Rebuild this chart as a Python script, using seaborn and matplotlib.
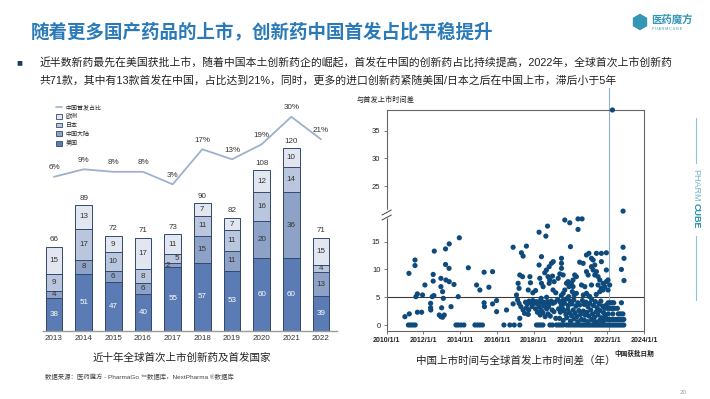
#!/usr/bin/env python
# -*- coding: UTF-8 -*-

# Import Modules
import numpy as np
import pandas as pd
import seaborn as sns
import matplotlib.pyplot as plt
from matplotlib.lines import Line2D
from matplotlib.patches import Patch, RegularPolygon
import matplotlib.transforms as mtransforms


# ---- data: left chart (first global launches by country) ----
years = ['2013', '2014', '2015', '2016', '2017', '2018', '2019', '2020', '2021', '2022']
usa = [38, 51, 47, 40, 55, 57, 53, 60, 60, 39]
china = [4, 8, 6, 6, 2, 15, 11, 20, 36, 13]
japan = [9, 17, 10, 8, 5, 11, 11, 16, 14, 4]
europe = [15, 13, 9, 17, 11, 7, 7, 12, 10, 15]
china_share = [6, 9, 8, 8, 3, 17, 13, 19, 30, 21]

# ---- data: right chart (China approval year, lag to first global launch in years) ----
lag_zero_years = [2011.18, 2011.30, 2011.42, 2011.55, 2013.77, 2013.89, 2014.04, 2014.20,
                  2014.80, 2014.94, 2015.07, 2015.21, 2016.38, 2016.70, 2016.94, 2017.24,
                  2018.15, 2018.27, 2018.38, 2018.50, 2018.88, 2019.02, 2019.24, 2019.36,
                  2019.48, 2019.60, 2019.78, 2019.90, 2020.02, 2020.14, 2020.26, 2020.38,
                  2020.50, 2020.60, 2020.70, 2020.80, 2020.90, 2021.00, 2021.10, 2021.20,
                  2021.30, 2021.40, 2021.50, 2021.60, 2021.70, 2021.80, 2021.90, 2022.00,
                  2022.10, 2022.20, 2022.30, 2022.40, 2022.50, 2022.60, 2022.70, 2022.80,
                  2022.90]

lag_2011_2016 = [(2010.99, 1.5), (2011.23, 2.0), (2011.21, 9.3), (2011.54, 11.7), (2011.54, 10.7),
                 (2011.59, 5.1), (2011.67, 5.6), (2011.67, 2.3), (2011.90, 2.3), (2011.95, 5.4),
                 (2012.08, 7.2), (2012.39, 3.9), (2012.39, 3.1), (2012.40, 2.7), (2012.53, 9.1),
                 (2012.53, 7.9), (2012.48, 5.1), (2012.57, 5.3), (2012.59, 13.3), (2012.95, 8.4),
                 (2012.95, 6.9), (2013.04, 6.0), (2013.08, 4.8), (2012.86, 1.8), (2012.95, 1.5),
                 (2013.04, 1.4), (2013.13, 1.8), (2012.99, 3.1), (2013.20, 13.7), (2013.40, 14.6),
                 (2013.20, 10.9), (2013.39, 10.2), (2013.22, 8.1), (2013.40, 7.8), (2013.66, 7.3),
                 (2013.50, 3.3), (2013.95, 15.7), (2013.89, 5.1), (2014.44, 10.3), (2014.89, 7.2),
                 (2015.07, 6.3), (2015.30, 9.5), (2015.30, 4.0), (2015.32, 3.3), (2015.56, 6.8),
                 (2015.76, 9.6), (2015.76, 3.8), (2015.98, 4.4), (2015.98, 2.4), (2016.52, 2.7)]

lag_2017_2019 = [(2016.88, 14.0), (2017.33, 13.0), (2017.42, 12.4), (2017.60, 14.2), (2017.24, 9.0),
                 (2017.39, 8.7), (2017.15, 7.5), (2017.20, 6.6), (2017.79, 8.7), (2017.82, 7.6),
                 (2017.70, 6.3), (2017.06, 5.4), (2017.12, 4.5), (2017.20, 3.9), (2017.30, 3.3),
                 (2017.42, 2.7), (2017.24, 1.2), (2016.88, 3.8), (2017.55, 4.1), (2017.65, 3.8),
                 (2017.75, 4.3), (2017.85, 4.0), (2017.95, 4.4), (2018.05, 3.9), (2018.15, 4.2),
                 (2018.25, 3.7), (2018.35, 4.3), (2018.45, 3.9), (2018.55, 4.1), (2018.65, 3.6),
                 (2018.75, 4.2), (2018.85, 3.8), (2018.95, 4.3), (2019.05, 3.9), (2019.15, 4.1),
                 (2017.60, 3.1), (2017.72, 2.7), (2017.90, 3.3), (2018.10, 2.9), (2018.30, 3.2),
                 (2018.42, 2.6), (2018.55, 3.4), (2018.70, 2.9), (2018.80, 3.3), (2019.00, 2.7),
                 (2017.50, 2.1), (2017.70, 1.9), (2018.20, 2.3), (2018.35, 1.8), (2018.50, 2.2),
                 (2018.62, 1.5), (2018.78, 2.0), (2018.90, 1.6), (2019.10, 2.4), (2019.20, 1.2),
                 (2018.40, 4.8), (2018.70, 5.0), (2018.29, 16.7), (2018.66, 16.0), (2018.75, 17.8),
                 (2018.42, 12.3), (2018.96, 11.1), (2019.06, 11.4), (2018.69, 9.9), (2018.60, 9.4),
                 (2018.84, 10.5), (2018.29, 10.8), (2018.78, 8.7), (2018.87, 8.1), (2018.84, 7.5),
                 (2018.33, 8.4), (2018.42, 7.5), (2018.51, 6.9), (2019.02, 8.8), (2019.11, 7.8),
                 (2019.51, 12.0), (2019.51, 11.1), (2019.51, 10.2), (2019.42, 9.2), (2019.33, 8.4),
                 (2019.69, 18.9), (2019.96, 18.4), (2019.92, 6.9), (2019.87, 7.8), (2019.69, 6.3),
                 (2019.60, 5.7), (2019.60, 9.0), (2019.78, 7.5), (2019.96, 7.2), (2019.05, 6.3),
                 (2019.20, 5.8), (2018.10, 6.2), (2017.95, 5.8), (2019.30, 4.6), (2019.42, 4.2),
                 (2019.50, 3.6), (2019.58, 4.4), (2019.68, 3.9), (2019.78, 4.7), (2019.88, 3.5),
                 (2019.98, 4.3), (2019.35, 2.9), (2019.45, 2.3), (2019.55, 3.1), (2019.65, 2.6),
                 (2019.75, 1.9), (2019.85, 2.8), (2019.95, 2.2), (2019.40, 1.2), (2019.60, 0.8),
                 (2019.80, 1.3), (2019.50, 5.3), (2019.90, 5.1)]

lag_2020_2022 = [(2020.00, 14.1), (2020.05, 7.5), (2020.14, 8.1), (2020.10, 6.0), (2020.32, 5.7),
                 (2020.32, 8.7), (2020.41, 19.1), (2020.63, 19.1), (2020.41, 17.2), (2020.50, 11.3),
                 (2020.69, 11.1), (2020.87, 9.6), (2020.96, 9.0), (2020.87, 12.6), (2021.00, 12.9),
                 (2021.14, 12.0), (2021.23, 11.7), (2021.41, 12.9), (2021.14, 10.5), (2021.32, 10.8),
                 (2021.23, 9.9), (2021.41, 9.6), (2021.32, 9.0), (2021.50, 8.7), (2021.68, 12.9),
                 (2021.68, 11.4), (2021.95, 13.0), (2021.59, 8.1), (2021.50, 7.2), (2021.68, 6.6),
                 (2021.59, 6.0), (2021.77, 6.3), (2021.86, 6.9), (2021.95, 7.8), (2022.04, 8.1),
                 (2022.13, 7.2), (2020.60, 7.2), (2020.78, 6.9), (2020.87, 5.7), (2021.05, 5.1),
                 (2020.23, 9.0), (2021.95, 9.9), (2022.04, 6.3), (2020.14, 6.9), (2021.14, 7.2),
                 (2021.77, 7.5), (2020.08, 3.8), (2020.18, 4.5), (2020.30, 3.4), (2020.40, 4.0),
                 (2020.50, 3.6), (2020.05, 1.7), (2020.15, 2.7), (2020.25, 2.1), (2020.35, 1.5),
                 (2020.45, 2.6), (2020.55, 1.9), (2020.00, 0.7), (2020.20, 1.1), (2020.40, 0.6),
                 (2020.60, 1.0), (2020.20, 5.4), (2020.65, 4.4), (2020.75, 3.7), (2020.85, 4.1),
                 (2020.95, 3.3), (2021.05, 3.9), (2021.15, 4.6), (2021.25, 3.5), (2021.35, 4.2),
                 (2021.45, 3.1), (2021.55, 3.8), (2021.65, 4.3), (2021.75, 3.4), (2021.85, 3.0),
                 (2021.95, 3.6), (2020.70, 2.5), (2020.80, 1.8), (2020.90, 2.3), (2021.00, 1.6),
                 (2021.10, 2.7), (2021.20, 2.0), (2021.30, 1.4), (2021.40, 2.4), (2021.50, 1.8),
                 (2021.60, 2.6), (2021.70, 1.3), (2021.80, 2.2), (2021.90, 1.7), (2020.75, 0.9),
                 (2020.95, 0.6), (2021.15, 1.0), (2021.30, 0.7), (2021.45, 0.5), (2021.60, 0.9),
                 (2021.75, 0.6), (2021.90, 1.0), (2020.70, 5.4), (2021.00, 5.2), (2021.40, 5.5),
                 (2022.05, 4.0), (2022.15, 4.0), (2022.25, 4.0), (2022.35, 4.0), (2022.77, 4.0),
                 (2022.00, 3.0), (2022.10, 3.0), (2022.20, 3.0), (2022.30, 3.0), (2022.40, 3.0),
                 (2022.55, 3.0), (2022.05, 2.0), (2022.30, 2.0), (2022.60, 2.0), (2022.72, 2.0),
                 (2022.85, 2.0), (2022.00, 1.0), (2022.10, 1.0), (2022.20, 1.0), (2022.30, 1.0),
                 (2022.40, 1.0), (2022.50, 1.0), (2022.60, 1.0), (2022.70, 1.0), (2022.80, 1.0),
                 (2022.90, 1.0), (2022.86, 14.0), (2022.91, 12.0), (2022.77, 10.0), (2022.91, 8.0),
                 (2022.86, 20.5), (2022.28, 38.7)]

lag_ticks = [0, 5, 10, 15, 25, 30, 35]
date_tick_years = [2010, 2012, 2014, 2016, 2018, 2020, 2022, 2024]


# ---- colours ----
col_usa = '#5a7bb3'
col_china = '#8ea2c7'
col_japan = '#bac6de'
col_europe = '#e1e6f0'
col_edge = '#34496b'
col_line = '#9fb0cd'
col_dot = '#0f4a7c'
col_title = '#2a7ab8'
col_teal = '#3296b4'

W, H = 710, 399


def fx(px):
    return px / W


def fy(py):
    return 1 - py / H


def to_date(y):
    yr = int(y)
    return pd.Timestamp(year=yr, month=1, day=1) + pd.Timedelta(days=(y - yr) * 365.25)


sns.set_style("white")
plt.rcParams['font.family'] = ['Liberation Sans', 'Noto Sans CJK SC', 'DejaVu Sans']
plt.rcParams['axes.unicode_minus'] = False

fig = plt.figure(figsize=(W / 100, H / 100), dpi=100)


# ---- slide header ----
fig.text(fx(31), fy(32), '随着更多国产药品的上市，创新药中国首发占比平稳提升',
         fontsize=13.3, fontweight='bold', color=col_title, va='center', ha='left')
fig.text(fx(16), fy(62), '■', fontsize=7, color='#1f3a5f', va='center', ha='left')
fig.text(fx(40), fy(62), '近半数新药最先在美国获批上市，随着中国本土创新药企的崛起，首发在中国的创新药占比持续提高，2022年，全球首次上市创新药',
         fontsize=7.8, color='#222222', va='center', ha='left')
fig.text(fx(40), fy(80), '共71款，其中有13款首发在中国，占比达到21%，同时，更多的进口创新药紧随美国/日本之后在中国上市，滞后小于5年',
         fontsize=7.8, color='#222222', va='center', ha='left')

# logo
fig.add_artist(RegularPolygon((640 / 100, (H - 22) / 100), 6, radius=0.075,
                              transform=fig.dpi_scale_trans, color=col_teal))
fig.text(fx(651), fy(19), '医药魔方', fontsize=7.5, fontweight='bold', color=col_teal, va='center')
fig.text(fx(652), fy(29), 'P H A R M C U B E', fontsize=2.6, color=col_teal, va='center')

# side decoration
fig.add_artist(Line2D([fx(696), fx(696)], [fy(118), fy(163)], color='#8cc3d3', lw=0.8))
fig.add_artist(Line2D([fx(696), fx(696)], [fy(236), fy(300)], color='#8cc3d3', lw=0.8))
fig.text(fx(696), fy(169), 'PHARM', fontsize=6.5, color='#6fb6cc', rotation=-90, ha='center', va='top')
fig.text(fx(696), fy(203), 'CUBE', fontsize=6.5, fontweight='bold', color='#1f8fb0', rotation=-90, ha='center', va='top')
fig.text(fx(680), fy(392), '20', fontsize=4.5, color='#9a9a9a', va='center')


# ---- left chart: stacked bars ----
df_bar = pd.DataFrame({'year': years, 'usa': usa, 'china': china, 'japan': japan, 'europe': europe})
df_bar['c1'] = df_bar['usa']
df_bar['c2'] = df_bar['c1'] + df_bar['china']
df_bar['c3'] = df_bar['c2'] + df_bar['japan']
df_bar['c4'] = df_bar['c3'] + df_bar['europe']

ax1 = fig.add_axes([fx(43), fy(330.7), fx(337) - fx(43), fy(100) - fy(330.7)])
for col, colr in [('c4', col_europe), ('c3', col_japan), ('c2', col_china), ('c1', col_usa)]:
    sns.barplot(data=df_bar, x='year', y=col, color=colr, saturation=1, width=0.56,
                edgecolor=col_edge, linewidth=0.7, errorbar=None, ax=ax1)

ymin_bar = 20
ax1.set_ylim(ymin_bar, ymin_bar + (330.7 - 100) / 1.822)
ax1.set_xlim(-0.37, 9.54)
ax1.set_xlabel('')
ax1.set_ylabel('')
ax1.set_yticks([])
for s in ['left', 'right', 'top']:
    ax1.spines[s].set_visible(False)
ax1.spines['bottom'].set_color('#9a9a9a')
ax1.spines['bottom'].set_linewidth(1.0)
ax1.tick_params(axis='x', length=0, labelsize=5.8, pad=3, colors='#333333')

# segment labels
for i in range(len(years)):
    lo = [ymin_bar, df_bar['c1'][i], df_bar['c2'][i], df_bar['c3'][i]]
    hi = [df_bar['c1'][i], df_bar['c2'][i], df_bar['c3'][i], df_bar['c4'][i]]
    vals = [usa[i], china[i], japan[i], europe[i]]
    for k in range(4):
        xoff = 0
        if years[i] == '2017' and k == 1:
            xoff = -0.17
        if years[i] == '2017' and k == 2:
            xoff = 0.15
        ax1.text(i + xoff, (lo[k] + hi[k]) / 2, str(vals[k]), ha='center', va='center',
                 fontsize=5.8, color='white' if k == 0 else '#333333')
    ax1.annotate(str(df_bar['c4'][i]), (i, df_bar['c4'][i]), xytext=(0, 2.5),
                 textcoords='offset points', ha='center', va='bottom', fontsize=5.8, color='#333333')

# share line on twin axis
ax2 = ax1.twinx()
sns.lineplot(x=np.arange(len(years)), y=china_share, color=col_line, lw=1.3, ax=ax2)
ax2.set_ylim(3 - (330.7 - 184.3) / 2.5, 3 + (184.3 - 100) / 2.5)
ax2.set_xlim(-0.37, 9.54)
ax2.set_yticks([])
for s in ['left', 'right', 'top', 'bottom']:
    ax2.spines[s].set_visible(False)
for i, v in enumerate(china_share):
    ax2.annotate(f'{v}%', (i, v), xytext=(0, 4), textcoords='offset points',
                 ha='center', va='bottom', fontsize=5.8, color='#333333')

handles = [Line2D([0], [0], color=col_line, lw=1.2),
           Patch(facecolor=col_europe, edgecolor=col_edge, lw=0.6),
           Patch(facecolor=col_japan, edgecolor=col_edge, lw=0.6),
           Patch(facecolor=col_china, edgecolor=col_edge, lw=0.6),
           Patch(facecolor=col_usa, edgecolor=col_edge, lw=0.6)]
fig.legend(handles, ['中国首发占比', '欧洲', '日本', '中国大陆', '美国'], loc='upper left',
           bbox_to_anchor=(fx(56), fy(104)), frameon=False, fontsize=4.3,
           handlelength=1.0, handleheight=0.9, labelspacing=0.55, handletextpad=0.6,
           borderpad=0, borderaxespad=0)

fig.text(fx(182), fy(358), '近十年全球首次上市创新药及首发国家', fontsize=7.6, color='#222222',
         ha='center', va='center')
fig.text(fx(45), fy(377), '数据来源：医药魔方 - PharmaGo ™数据库，NextPharma ®数据库', fontsize=4.6,
         color='#444444', ha='left', va='center')


# ---- right chart: lag scatter ----
pts = [(y, 0.0) for y in lag_zero_years] + lag_2011_2016 + lag_2017_2019 + lag_2020_2022
df_lag = pd.DataFrame(pts, columns=['approval', 'lag'])
df_lag['date'] = df_lag['approval'].apply(to_date)

ax3 = fig.add_axes([fx(386.7), fy(331), fx(644) - fx(386.7), fy(110) - fy(331)])
ax3.axhline(5, color='#3a3a3a', lw=0.8, zorder=1)
ax3.axvline(to_date(2022.1), ymin=0, ymax=1.1, color='#8fb1c9', lw=0.8, clip_on=False, zorder=1)
sns.scatterplot(data=df_lag, x='date', y='lag', s=14, color=col_dot, edgecolor='none',
                clip_on=False, zorder=3, ax=ax3)

ax3.set_xlim(to_date(2010), to_date(2024))
ax3.set_ylim(-1.08, 38.7)
ax3.set_yticks(lag_ticks)
ax3.set_yticklabels([str(t) for t in lag_ticks])
ax3.set_xticks([to_date(y) for y in date_tick_years])
ax3.set_xticklabels([f'{y}/1/1' for y in date_tick_years])
ax3.set_xlabel('')
ax3.set_ylabel('')
for s in ax3.spines.values():
    s.set_color('#666666')
    s.set_linewidth(0.8)
ax3.tick_params(axis='y', direction='out', length=2.5, width=0.6, color='#666666',
                labelsize=5.5, pad=2, left=True, labelcolor='#222222')
ax3.tick_params(axis='x', direction='out', length=2.5, width=0.6, color='#666666',
                labelsize=5, pad=2, bottom=True, labelcolor='#222222')
for lab in ax3.get_xticklabels():
    lab.set_fontweight('bold')

# axis break mark
trans = mtransforms.blended_transform_factory(ax3.transAxes, ax3.transData)
ax3.plot([-0.006, 0.006], [19.2, 20.4], transform=trans, color='white', lw=3, clip_on=False, zorder=4)
ax3.plot([-0.018, 0.018], [18.9, 19.8], transform=trans, color='#444444', lw=0.7, clip_on=False, zorder=5)
ax3.plot([-0.018, 0.018], [19.8, 20.7], transform=trans, color='#444444', lw=0.7, clip_on=False, zorder=5)

fig.text(fx(357), fy(100), '与首发上市时间差', fontsize=5.2, color='#222222', ha='left', va='center')
fig.text(fx(516), fy(361), '中国上市时间与全球首发上市时间差（年）', fontsize=7.6, color='#222222',
         ha='center', va='center')
fig.text(fx(614), fy(354), '中国获批日期', fontsize=4.8, fontweight='bold', color='#222222',
         ha='left', va='center')

fig.savefig('out.png', dpi=100)
